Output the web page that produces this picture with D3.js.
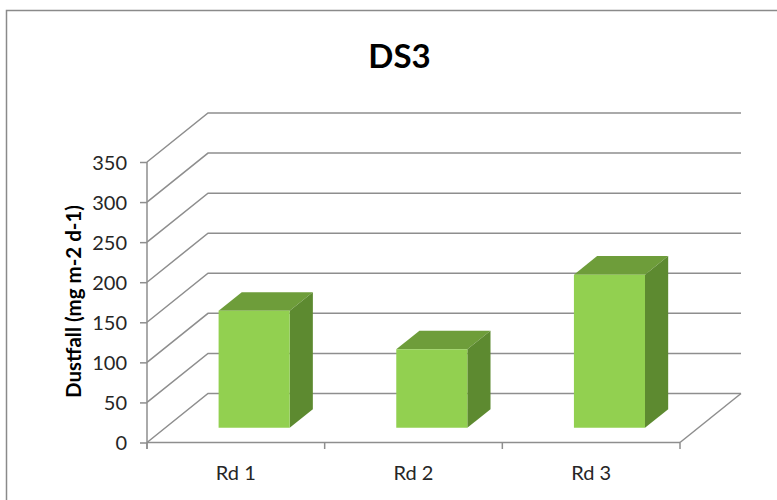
<!DOCTYPE html>
<html>
<head>
<meta charset="utf-8">
<script src="https://cdn.jsdelivr.net/npm/d3@7"></script>
<style>
  html, body { margin: 0; padding: 0; background: #ffffff; }
  svg { display: block; }
</style>
</head>
<body>
<svg id="chart" width="777" height="500"></svg>
<script>
// Dustfall per road site
const categories = ["Rd 1", "Rd 2", "Rd 3"];
const dustfall = [146, 98, 191];
const yTicks = [0, 50, 100, 150, 200, 250, 300, 350];
const chartTitle = "DS3";
const yAxisTitle = "Dustfall (mg m-2 d-1)";

const svg = d3.select("#chart");
const W = 777, H = 500;

// Front plane of the 3D box and the depth offset to the back wall
const x0 = 147, x1 = 680;
const depth = { dx: 61, dy: -49 };
const barDepth = [0.3, 0.68];

const x = d3.scaleBand().domain(categories).range([x0, x1])
  .paddingInner(0.6).paddingOuter(0.3);
const y = d3.scaleLinear().domain([0, 350]).range([442.5, 162]);

const proj = (px, py, f) => [px + f * depth.dx, py + f * depth.dy];

const gridColor = "#8e8e8e";
const font = "Lato, 'Open Sans', sans-serif";

// Chart frame
svg.append("rect")
  .attr("x", 6.5).attr("y", 10.5)
  .attr("width", W + 20).attr("height", H + 20)
  .attr("fill", "#ffffff")
  .attr("stroke", "#8a8a8a").attr("stroke-width", 1.5);

// Title
svg.append("text")
  .attr("x", 399.5).attr("y", 67.5)
  .attr("text-anchor", "middle")
  .attr("font-family", font).attr("font-weight", 700)
  .attr("font-size", 33).attr("fill", "#000000")
  .text(chartTitle);

// Side wall diagonals and back wall gridlines
const grid = svg.append("g").attr("fill", "none")
  .attr("stroke", gridColor).attr("stroke-width", 1.5);
yTicks.forEach(v => {
  const a = [x0, y(v)];
  const b = proj(x0, y(v), 1);
  const c = proj(x1, y(v), 1);
  grid.append("path").attr("d", d3.line()([a, b, c]));
});
// Floor right edge
grid.append("path").attr("d", d3.line()([[x1, y(0)], proj(x1, y(0), 1)]));

// Value axis (front left edge)
const yAxis = svg.append("g").attr("transform", `translate(${x0},0)`)
  .call(d3.axisLeft(y).tickValues(yTicks).tickSize(7).tickPadding(13));
yAxis.select(".domain").remove();
yAxis.append("line").attr("x1", 0).attr("x2", 0)
  .attr("y1", y(350)).attr("y2", y(0) + 6.5);
yAxis.selectAll("line").attr("stroke", gridColor).attr("stroke-width", 1.5);
yAxis.selectAll("text")
  .attr("font-family", font).attr("font-size", 20)
  .attr("fill", "#262626").attr("dy", "0.35em");

// Category axis (front floor edge)
const xAxis = svg.append("g").attr("transform", `translate(0,${y(0)})`);
xAxis.append("line").attr("x1", x0).attr("x2", x1).attr("y1", 0).attr("y2", 0);
const step = x.step();
d3.range(categories.length + 1).forEach(i => {
  const tx = x0 + i * step;
  xAxis.append("line").attr("x1", tx).attr("x2", tx).attr("y1", 0).attr("y2", 6.5);
});
xAxis.selectAll("line").attr("stroke", gridColor).attr("stroke-width", 1.5);
xAxis.selectAll("text.cat").data(categories).join("text")
  .attr("class", "cat")
  .attr("x", d => x(d) + x.bandwidth() / 2)
  .attr("y", 37.5)
  .attr("text-anchor", "middle")
  .attr("font-family", font).attr("font-size", 20)
  .attr("fill", "#262626")
  .text(d => d);

// Value axis title
svg.append("text")
  .attr("transform", "translate(81,301.5) rotate(-90)")
  .attr("text-anchor", "middle")
  .attr("font-family", font).attr("font-weight", 700)
  .attr("font-size", 20.5).attr("fill", "#000000")
  .text(yAxisTitle);

// 3D columns: top, side and front faces
const bars = svg.append("g");
categories.forEach((cat, i) => {
  const v = dustfall[i];
  const l = x(cat), r = x(cat) + x.bandwidth();
  const [f1, f2] = barDepth;
  const fl0 = proj(l, y(0), f1), fr0 = proj(r, y(0), f1);
  const flT = proj(l, y(v), f1), frT = proj(r, y(v), f1);
  const blT = proj(l, y(v), f2), brT = proj(r, y(v), f2);
  const br0 = proj(r, y(0), f2);
  const g = bars.append("g");
  g.append("path").attr("d", d3.line()([flT, frT, brT, blT]) + "Z")
    .attr("fill", "#6e9d3a");
  g.append("path").attr("d", d3.line()([fr0, frT, brT, br0]) + "Z")
    .attr("fill", "#5d8a30");
  g.append("path").attr("d", d3.line()([fl0, fr0, frT, flT]) + "Z")
    .attr("fill", "#92d050");
});
</script>
</body>
</html>
